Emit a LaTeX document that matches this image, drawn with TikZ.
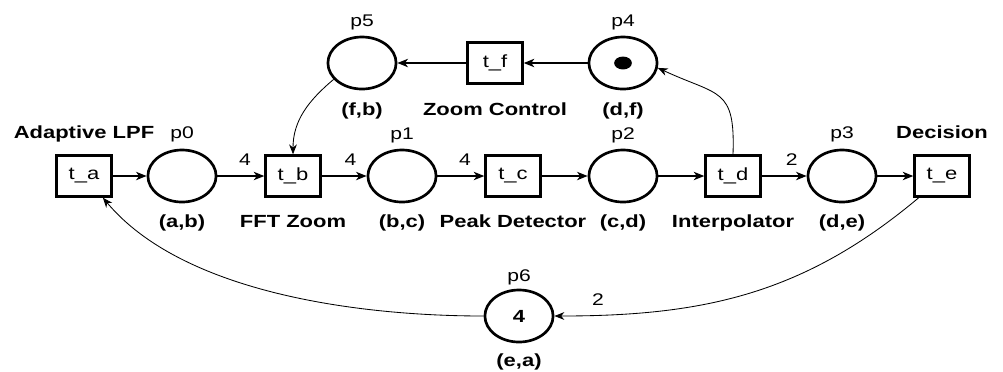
\documentclass[tikz,border=0pt]{standalone}
\usepackage{fontspec}
\setmainfont{Liberation Sans}[FakeStretch=1.25]
\usetikzlibrary{shapes.geometric,arrows.meta,positioning}

\begin{document}
\begin{tikzpicture}[x=0.025cm, y=-0.025cm,
  placenode/.style={draw, ellipse, line width=1.9pt, minimum width=48.5pt, minimum height=37pt, inner sep=0pt, font=\fontsize{12.5}{14}\selectfont\bfseries},
  transnode/.style={draw, rectangle, line width=1.9pt, minimum width=39pt, minimum height=29pt, inner sep=0pt, font=\fontsize{12.5}{14}\selectfont},
  tag/.style={inner sep=0pt, text height=8.6pt, text depth=0pt, font=\fontsize{12}{14}\selectfont},
  caption/.style={inner sep=0pt, text height=9pt, text depth=0pt, font=\fontsize{12.5}{14}\selectfont\bfseries},
  weight/.style={tag, above=7pt},
  arc/.style={-{Stealth[length=7.5pt, width=6pt, inset=2.2pt]}, line width=0.8pt},
  curvearc/.style={-{Stealth[length=7pt, width=5.5pt, inset=2.2pt]}, line width=0.6pt}]
  \useasboundingbox (0,0) rectangle (1003,371);

  % main chain
  \node[transnode] (ta) at (84,176) {t\_a};
  \node[placenode] (p0) at (182,176) {};
  \node[transnode] (tb) at (293,176) {t\_b};
  \node[placenode] (p1) at (402,176) {};
  \node[transnode] (tc) at (513,176) {t\_c};
  \node[placenode] (p2) at (623,176) {};
  \node[transnode] (td) at (733,176) {t\_d};
  \node[placenode] (p3) at (842,176) {};
  \node[transnode] (te) at (942,176) {t\_e};

  % zoom loop and return place
  \node[placenode] (p5) at (362,63) {};
  \node[transnode] (tf) at (495,63) {t\_f};
  \node[placenode] (p4) at (623,63) {};
  \node[placenode] (p6) at (519,316) {4};
  \fill (p4.center) ellipse [x radius=6.3pt, y radius=4.6pt];

  % place names
  \node[tag] (np0) at (182,132) {p0};
  \node[tag] (np1) at (402,133) {p1};
  \node[tag] (np2) at (623,133) {p2};
  \node[tag] (np3) at (842,132) {p3};
  \node[tag] (np5) at (362,20) {p5};
  \node[tag] (np4) at (623,20) {p4};
  \node[tag] (np6) at (519,275) {p6};

  % captions
  \node[caption] (lta) at (84,132) {Adaptive LPF};
  \node[caption] (lte) at (942,132) {Decision};
  \node[caption] (lp0) at (182,221) {(a,b)};
  \node[caption] (ltb) at (293,221) {FFT Zoom};
  \node[caption] (lp1) at (402,221) {(b,c)};
  \node[caption] (ltc) at (513,221) {Peak Detector};
  \node[caption] (lp2) at (623,221) {(c,d)};
  \node[caption] (ltd) at (733,221) {Interpolator};
  \node[caption] (lp3) at (842,221) {(d,e)};
  \node[caption] (lp5) at (362,109) {(f,b)};
  \node[caption] (ltf) at (495,109) {Zoom Control};
  \node[caption] (lp4) at (623,109) {(d,f)};
  \node[caption] (lp6) at (519,360) {(e,a)};

  \draw[arc] (ta) -- (p0);
  \draw[arc] (p0) -- node[weight, pos=.59] {4} (tb);
  \draw[arc] (tb) -- node[weight, pos=.64] {4} (p1);
  \draw[arc] (p1) -- node[weight, pos=.59] {4} (tc);
  \draw[arc] (tc) -- (p2);
  \draw[arc] (p2) -- (td);
  \draw[arc] (td) -- node[weight, pos=.67] {2} (p3);
  \draw[arc] (p3) -- (te);
  \draw[arc] (p4) -- (tf);
  \draw[arc] (tf) -- (p5);

  \draw[curvearc] (p5.-150) to[out=-140, in=90] (tb.north);
  \draw[curvearc] (td.north) to[out=88, in=-25, looseness=1.5] (p4.-8);
  \draw[curvearc] (te.-137) to[out=-140, in=0] node[weight, pos=.9] {2} (p6.east);
  \draw[curvearc] (p6.west) to[out=180, in=-50, looseness=0.8] (ta.-49);
\end{tikzpicture}
\end{document}
